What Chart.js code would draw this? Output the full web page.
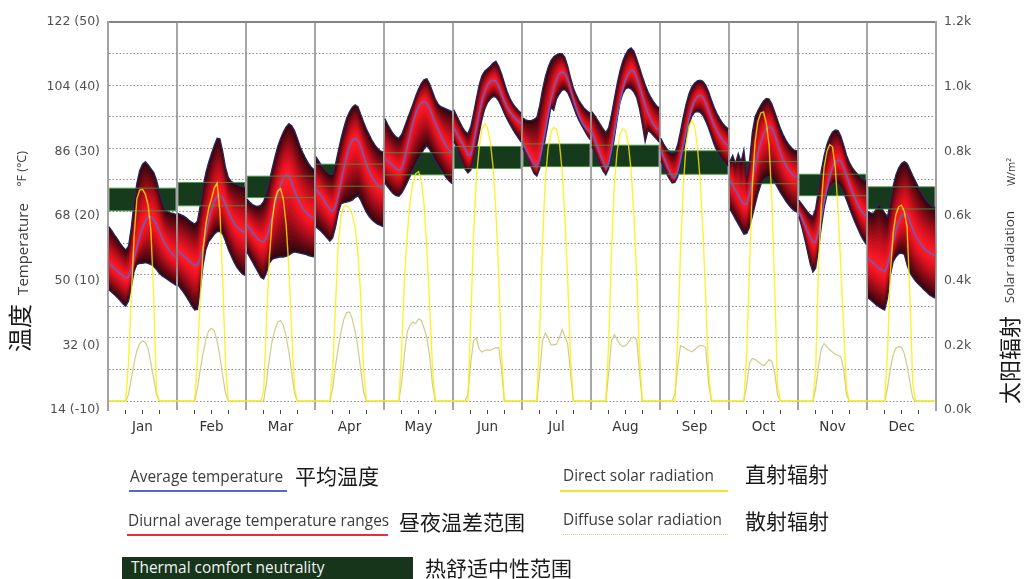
<!DOCTYPE html>
<html>
<head>
<meta charset="utf-8">
<script src="https://cdn.jsdelivr.net/npm/chart.js@4.4.1/dist/chart.umd.min.js"></script>
<style>
  html, body { margin: 0; padding: 0; background: #fff; }
  #wrap { position: relative; width: 1025px; height: 579px; overflow: hidden; }
  #wrap canvas { position: absolute; left: 0; top: 0; }
  .t { position: absolute; white-space: nowrap; line-height: 1; }
  .en { font-family: "Open Sans", "DejaVu Sans", sans-serif; color: #3c3c3c; }
  .zh { font-family: "Noto Sans CJK SC", sans-serif; color: #1a1a1a; }
  .mid { transform: translateY(-50%); }
  .rot { transform: translate(-50%, -50%) rotate(-90deg); }
  .bar { position: absolute; }
  .lg { font-size: 15.4px; }
  .lz { font-size: 21px; }
</style>
</head>
<body>
<div id="wrap">
  <canvas id="chart" width="1025" height="579"></canvas>

  <!-- axis titles -->
  <div class="t zh rot" style="left:19px;top:328px;font-size:24px;">温度</div>
  <div class="t en rot" style="left:22px;top:249px;font-size:15px;">Temperature</div>
  <div class="t en rot" style="left:22px;top:169px;font-size:12.5px;">°F (°C)</div>
  <div class="t zh rot" style="left:1008px;top:360px;font-size:22px;">太阳辐射</div>
  <div class="t en rot" style="left:1010px;top:257px;font-size:13.5px;">Solar radiation</div>
  <div class="t en rot" style="left:1010px;top:172px;font-size:11px;">W/m²</div>

  <!-- legend -->
  <div class="t en mid lg" style="left:130px;top:477px;">Average temperature</div>
  <div class="bar" style="left:129px;top:490px;width:158px;height:2px;background:#5a66cf;"></div>
  <div class="t zh mid lz" style="left:295px;top:475px;">平均温度</div>

  <div class="t en mid lg" style="left:128px;top:521px;">Diurnal average temperature ranges</div>
  <div class="bar" style="left:127px;top:534px;width:261px;height:2px;background:#e2303e;"></div>
  <div class="t zh mid lz" style="left:399px;top:521px;">昼夜温差范围</div>

  <div class="bar" style="left:122px;top:557px;width:291px;height:22px;background:#17351b;"></div>
  <div class="t en mid lg" style="left:131px;top:568px;color:#f2f2f2;">Thermal comfort neutrality</div>
  <div class="t zh mid lz" style="left:425px;top:567px;">热舒适中性范围</div>

  <div class="t en mid lg" style="left:563px;top:476px;">Direct solar radiation</div>
  <div class="bar" style="left:560px;top:490px;width:168px;height:2px;background:#f2e621;"></div>
  <div class="t zh mid lz" style="left:745px;top:473px;">直射辐射</div>

  <div class="t en mid lg" style="left:563px;top:520px;">Diffuse solar radiation</div>
  <div class="bar" style="left:563px;top:534px;width:165px;height:0;border-top:1.5px dotted #cfd38a;"></div>
  <div class="t zh mid lz" style="left:745px;top:520px;">散射辐射</div>
</div>

<script>
// ---- data: typical day per month, hourly (0..24 h) ----
const months = ['Jan', 'Feb', 'Mar', 'Apr', 'May', 'Jun', 'Jul', 'Aug', 'Sep', 'Oct', 'Nov', 'Dec'];

// average temperature, °C
const avgTemp = [
  [11.8,11.4,11.0,10.6,10.2,9.8,9.5,9.6,10.8,12.5,14.3,16.0,17.4,18.5,19.1,19.2,18.8,17.9,16.8,15.8,14.9,14.2,13.6,13.1,12.8],
  [13.8,13.4,13.0,12.6,12.2,11.8,11.5,11.5,12.6,14.5,16.6,18.6,20.3,21.6,22.4,22.6,22.2,21.2,20.0,19.0,18.2,17.6,17.2,16.9,16.7],
  [17.9,17.3,16.7,16.1,15.6,15.3,15.2,15.8,17.3,19.2,21.0,22.7,24.2,25.3,25.8,25.6,24.6,23.3,22.2,21.3,20.5,19.9,19.5,19.2,19.0],
  [23.6,23.0,22.4,21.7,21.0,20.3,20.0,20.8,22.6,24.7,26.8,28.7,30.3,31.3,31.6,31.3,30.3,28.9,27.5,26.4,25.5,24.8,24.2,23.8,23.6],
  [28.4,28.0,27.6,27.2,26.8,26.5,26.8,28.3,30.2,32.2,34.0,35.5,36.6,37.2,37.4,37.1,36.3,35.2,34.0,33.0,32.0,31.1,30.3,29.7,29.3],
  [33.2,32.4,31.6,30.8,30.0,29.0,28.9,30.8,33.2,35.5,37.5,39.0,40.0,40.6,40.8,40.6,39.8,38.6,37.4,36.5,35.8,35.2,34.7,34.3,34.0],
  [30.8,30.0,29.1,28.3,27.5,27.1,28.2,30.4,32.8,35.3,37.6,39.5,40.9,41.8,42.1,41.8,40.9,39.4,37.8,36.4,35.2,34.2,33.5,33.0,32.7],
  [32.6,31.4,30.2,29.0,27.9,26.8,27.6,29.8,32.4,35.0,37.3,39.3,40.8,41.8,42.4,42.2,41.2,39.8,38.3,36.9,35.6,34.6,33.8,33.2,32.8],
  [29.7,28.6,27.5,26.5,25.6,25.3,26.3,28.2,30.4,32.6,34.6,36.3,37.5,38.2,38.4,38.1,37.2,36.0,34.8,33.7,32.8,32.0,31.3,30.8,30.4],
  [25.0,24.2,23.4,22.6,21.8,21.1,21.2,22.8,25.0,27.2,29.2,30.9,32.2,33.0,33.4,33.2,32.2,30.8,29.4,28.2,27.3,26.6,26.0,25.6,25.4],
  [20.0,19.0,18.0,17.0,16.0,15.2,15.2,16.8,19.0,21.4,23.6,25.5,27.0,27.9,28.2,27.9,27.0,25.7,24.4,23.2,22.1,21.1,20.3,19.7,19.2],
  [12.6,12.2,11.8,11.4,11.0,10.7,10.5,11.5,13.2,15.2,17.0,18.4,19.3,19.7,19.5,18.5,17.2,16.2,15.4,14.8,14.2,13.8,13.5,13.2,13.0]
];

// upper edge of the diurnal range, °C
const maxTemp = [
  [17.6,17.0,16.3,15.7,15.0,14.4,13.9,14.5,17.5,21.5,24.5,26.5,27.5,27.9,27.4,26.8,26.2,25.0,23.2,21.5,20.4,20.0,19.8,19.7,19.5],
  [19.7,19.5,19.3,19.0,18.6,18.3,18.0,18.5,21.0,24.0,26.2,27.8,29.2,30.5,31.6,31.5,29.5,27.0,25.4,24.8,24.5,24.3,24.1,23.9,23.8],
  [22.0,21.5,21.1,20.9,20.8,21.0,21.6,23.0,24.8,26.8,28.6,30.3,31.5,32.6,33.4,33.9,33.6,32.8,31.6,30.3,29.3,28.4,27.6,27.0,26.6],
  [28.7,28.0,27.3,26.7,26.2,25.9,25.9,27.5,29.6,31.6,33.3,34.8,35.8,36.5,36.9,36.6,35.4,34.2,33.1,32.2,31.3,30.6,30.0,29.6,29.4],
  [34.7,33.8,33.0,32.3,31.8,31.6,32.2,33.4,34.6,35.8,37.0,38.3,39.4,40.3,40.9,41.0,40.2,39.0,37.8,37.0,36.6,36.4,36.2,36.0,35.8],
  [36.1,35.2,34.3,33.4,32.7,32.3,33.4,35.5,37.8,40.0,41.5,42.2,42.6,43.0,43.5,43.8,43.0,41.8,40.4,39.0,37.9,37.1,36.5,36.0,35.6],
  [34.8,34.5,34.4,34.4,34.6,34.9,36.8,39.3,41.3,42.8,43.9,44.5,44.8,45.0,45.0,44.4,43.0,41.2,39.6,38.5,37.6,36.9,36.3,35.9,35.6],
  [35.8,35.2,34.5,33.8,33.1,32.5,33.3,35.3,37.8,40.2,42.2,43.8,44.9,45.6,45.9,45.4,44.2,42.8,41.4,40.1,39.0,38.1,37.4,36.8,36.4],
  [31.6,30.7,30.0,29.5,29.2,29.3,30.6,32.7,35.0,37.0,38.6,39.7,40.3,40.7,40.8,40.6,40.0,39.0,37.7,36.5,35.5,34.7,34.0,33.5,33.1],
  [27.9,28.9,27.6,29.2,27.9,29.8,25.8,28.0,32.5,35.0,36.0,36.8,37.5,37.9,37.8,37.0,35.8,34.5,33.2,32.2,31.3,30.6,30.1,29.7,29.6],
  [21.8,21.2,20.6,20.0,19.5,19.2,20.5,23.4,26.5,28.8,30.6,31.8,32.6,32.9,32.8,31.9,30.5,28.9,27.8,27.0,26.4,25.9,25.4,25.0,24.8],
  [20.0,19.8,19.7,20.4,21.2,20.5,19.8,19.2,21.5,24.0,25.8,26.9,27.6,27.9,27.6,26.7,25.7,24.8,23.9,23.0,22.3,21.7,21.2,20.8,20.6]
];

// lower edge of the diurnal range, °C
const minTemp = [
  [7.6,7.2,6.8,6.4,5.9,5.4,5.0,5.8,8.0,10.5,11.6,11.8,11.8,11.9,11.8,11.6,11.3,10.8,10.2,9.8,9.5,9.2,8.9,8.6,8.3],
  [8.4,7.8,7.2,6.5,5.8,5.0,4.4,4.5,7.5,11.5,14.0,15.2,15.8,16.4,16.8,16.8,16.4,15.3,14.0,13.0,12.0,11.2,10.6,10.1,9.9],
  [13.6,12.8,12.0,11.2,10.4,9.6,9.3,10.3,11.8,12.4,12.6,12.7,12.8,12.8,12.9,13.1,13.4,13.6,13.5,13.4,13.3,13.2,13.0,12.9,12.8],
  [17.6,17.2,16.8,16.3,15.8,15.3,15.8,17.5,19.8,21.2,21.4,21.5,21.6,21.8,22.2,22.5,21.8,20.8,19.9,19.2,18.7,18.3,18.0,17.8,17.6],
  [24.5,23.9,23.3,22.8,22.5,22.4,22.9,23.7,24.6,25.6,26.6,27.5,28.3,29.1,29.9,30.4,29.8,28.9,28.0,27.3,26.6,25.9,25.3,24.8,24.4],
  [31.1,30.0,28.8,27.7,26.7,26.1,26.5,28.0,30.0,32.3,34.5,36.2,37.2,37.8,38.2,38.1,37.5,36.6,35.5,34.6,33.8,33.0,32.3,31.6,31.0],
  [30.0,29.0,28.0,27.0,26.0,25.6,26.8,29.0,31.5,34.0,36.5,36.0,37.8,38.6,39.2,39.3,38.8,37.8,36.6,35.4,34.4,33.6,32.8,32.0,31.4],
  [30.3,29.3,28.3,27.3,26.4,25.8,26.8,28.8,31.5,34.5,37.2,38.6,39.4,39.6,39.4,38.9,38.0,36.2,33.8,31.0,32.8,32.5,32.0,31.5,31.0],
  [28.0,27.0,26.0,25.2,24.5,24.6,25.5,27.2,29.3,31.6,33.6,35.0,35.7,35.8,35.7,35.2,34.3,33.2,31.9,30.6,29.6,28.8,28.1,27.6,27.2],
  [20.4,19.6,18.8,18.0,17.2,16.4,16.5,17.5,19.2,21.0,22.8,24.2,25.0,25.4,25.5,25.2,24.6,23.8,23.0,22.3,21.6,21.0,20.5,20.1,19.9],
  [19.2,17.6,15.8,13.8,11.8,10.4,11.0,14.0,17.5,20.5,22.6,23.8,24.4,24.6,24.4,23.8,22.9,21.8,20.6,19.4,18.3,17.3,16.3,15.5,14.8],
  [6.3,6.0,5.6,5.2,4.9,4.6,4.4,6.3,9.8,12.0,12.8,13.3,13.4,13.2,11.5,10.3,9.6,9.0,8.5,8.1,7.6,7.2,6.8,6.5,6.3]
];

// direct solar radiation, W/m²
const directSolar = [
  [0,0,0,0,0,0,0,120,330,520,640,668,670,655,620,540,330,30,0,0,0,0,0,0,0],
  [0,0,0,0,0,0,0,140,330,480,560,610,640,675,690,600,380,120,0,0,0,0,0,0,0],
  [0,0,0,0,0,0,30,250,450,570,635,665,672,640,560,420,220,40,0,0,0,0,0,0,0],
  [0,0,0,0,0,0,100,300,500,590,615,620,610,590,550,470,330,100,0,0,0,0,0,0,0],
  [0,0,0,0,0,0,160,390,530,630,690,720,726,700,620,480,300,100,0,0,0,0,0,0,0],
  [0,0,0,0,0,0,250,520,700,800,860,878,865,820,740,600,400,150,0,0,0,0,0,0,0],
  [0,0,0,0,0,0,220,500,700,800,850,866,860,820,730,580,380,140,0,0,0,0,0,0,0],
  [0,0,0,0,0,0,180,470,680,790,845,862,855,815,730,590,390,150,0,0,0,0,0,0,0],
  [0,0,0,0,0,0,200,470,680,810,870,888,870,810,700,540,330,100,0,0,0,0,0,0,0],
  [0,0,0,0,0,0,150,420,680,820,885,912,915,880,810,630,360,50,0,0,0,0,0,0,0],
  [0,0,0,0,0,0,100,420,620,740,790,812,805,740,600,420,230,40,0,0,0,0,0,0,0],
  [0,0,0,0,0,0,0,150,400,530,590,615,620,600,550,330,60,0,0,0,0,0,0,0,0]
];

// diffuse solar radiation, W/m²
const diffuseSolar = [
  [0,0,0,0,0,0,0,20,70,120,160,182,190,186,165,120,70,20,0,0,0,0,0,0,0],
  [0,0,0,0,0,0,0,40,100,150,195,222,230,222,190,140,80,25,0,0,0,0,0,0,0],
  [0,0,0,0,0,0,0,60,130,190,225,250,255,240,205,155,90,25,0,0,0,0,0,0,0],
  [0,0,0,0,0,0,40,110,170,220,260,280,282,260,220,170,100,30,0,0,0,0,0,0,0],
  [0,0,0,0,0,0,60,150,220,240,250,245,260,255,230,200,140,50,0,0,0,0,0,0,0],
  [0,0,0,0,0,20,120,190,200,165,155,160,162,160,165,168,170,100,0,0,0,0,0,0,0],
  [0,0,0,0,0,0,90,190,215,200,178,178,180,200,225,205,180,90,0,0,0,0,0,0,0],
  [0,0,0,0,0,0,90,190,210,195,180,172,175,185,200,202,195,90,0,0,0,0,0,0,0],
  [0,0,0,0,0,20,110,175,172,165,160,156,162,170,176,175,170,60,0,0,0,0,0,0,0],
  [0,0,0,0,0,0,50,120,135,132,125,118,112,120,132,125,90,20,0,0,0,0,0,0,0],
  [0,0,0,0,0,0,40,110,165,182,172,162,155,148,145,140,100,20,0,0,0,0,0,0,0],
  [0,0,0,0,0,0,0,40,100,145,168,172,170,150,110,60,10,0,0,0,0,0,0,0,0]
];

// thermal comfort neutrality band, °C
const comfortLow  = [20.1, 20.9, 22.2, 24.0, 25.8, 26.8, 27.1, 27.1, 25.9, 24.4, 22.5, 20.4];
const comfortHigh = [23.7, 24.6, 25.6, 27.5, 29.3, 30.3, 30.7, 30.5, 29.6, 27.9, 25.9, 23.9];

// axis tick labels
const tempLabelTicks  = [-10, 0, 10, 20, 30, 40, 50];          // °C, shown as °F (°C)
const solarLabelTicks = [0, 200, 400, 600, 800, 1000, 1200];   // W/m², shown as k

// ---- layout helpers ----
const HOURS = 24;
const SPAN = months.length * HOURS;
const hourX = (m, h) => m * HOURS + 0.3 + h * 23.4 / HOURS;

// one polyline per month, broken between months
function monthSeries(days) {
  const pts = [];
  days.forEach((day, m) => {
    day.forEach((v, h) => pts.push({ x: hourX(m, h), y: v }));
    pts.push({ x: m * HOURS + 23.85, y: null });
  });
  return pts;
}
// one unbroken polyline through all months
function joinedSeries(days) {
  const pts = [];
  days.forEach((day, m) => day.forEach((v, h) => pts.push({ x: hourX(m, h), y: v })));
  return pts;
}
// a level lying a fraction of the way from the mean towards an edge
function levelSeries(edge, frac) {
  return monthSeries(avgTemp.map((day, m) => day.map((a, h) => a + frac * (edge[m][h] - a))));
}
function comfortSeries(vals) {
  const pts = [];
  vals.forEach((v, m) => {
    pts.push({ x: m * HOURS + 0.4, y: v }, { x: m * HOURS + 23.6, y: v }, { x: m * HOURS + 23.8, y: null });
  });
  return pts;
}

// shading of the diurnal range: bright red at the mean, near-black at the edges
const SHADE_STEPS = 16;
const shadeStops = [
  [0.00, [255, 30, 42]],
  [0.22, [236, 20, 34]],
  [0.48, [182, 14, 27]],
  [0.74, [112, 10, 20]],
  [1.00, [44, 5, 14]]
];
function shadeAt(t) {
  for (let i = 1; i < shadeStops.length; i++) {
    const [t1, c1] = shadeStops[i];
    const [t0, c0] = shadeStops[i - 1];
    if (t <= t1) {
      const k = (t - t0) / (t1 - t0);
      const c = c0.map((v, j) => Math.round(v + k * (c1[j] - v)));
      return `rgb(${c[0]},${c[1]},${c[2]})`;
    }
  }
  return 'rgb(44,5,14)';
}

const base = { xAxisID: 'x', yAxisID: 'y', pointRadius: 0, tension: 0, spanGaps: false };
const datasets = [];

// comfort band fill (bottom layer)
datasets.push({ ...base, data: comfortSeries(comfortLow), borderWidth: 0, fill: false, order: 90 });
datasets.push({ ...base, data: comfortSeries(comfortHigh), borderWidth: 0, fill: '-1',
                backgroundColor: '#163a1c', order: 89 });

// mean temperature (also the fill target of the shading)
const avgIndex = datasets.length;
datasets.push({ ...base, data: monthSeries(avgTemp), borderColor: '#5b63cc', borderWidth: 1.4,
                fill: false, order: 3 });

// shading, outer levels painted first
[maxTemp, minTemp].forEach(edge => {
  for (let i = 1; i <= SHADE_STEPS; i++) {
    const f = i / SHADE_STEPS;
    datasets.push({ ...base, data: levelSeries(edge, f), borderWidth: 0,
                    fill: avgIndex, backgroundColor: shadeAt((i - 0.5) / SHADE_STEPS), order: 20 + i });
  }
});

// range outlines
[maxTemp, minTemp].forEach(edge => {
  datasets.push({ ...base, data: monthSeries(edge), borderColor: '#2c2658', borderWidth: 1.3,
                  fill: false, order: 4 });
});

// comfort band edges drawn over the range
[comfortLow, comfortHigh].forEach(v => {
  datasets.push({ ...base, data: comfortSeries(v), borderColor: 'rgba(72,150,62,0.85)', borderWidth: 1,
                  fill: false, order: 2 });
});

// solar radiation
datasets.push({ ...base, yAxisID: 'y2', data: joinedSeries(diffuseSolar), borderColor: '#cfcd88',
                borderWidth: 1.2, fill: false, order: 80 });
datasets.push({ ...base, yAxisID: 'y2', data: joinedSeries(directSolar), borderColor: 'rgba(255,236,0,0.8)',
                borderWidth: 1.4, fill: false, order: 0 });

// the tick labels sit on a slightly taller ladder than the grid
const TOP = 22, GRID_BOTTOM = 401, LABEL_BOTTOM = 410;
const extra = (LABEL_BOTTOM - GRID_BOTTOM) / (GRID_BOTTOM - TOP);

Chart.defaults.font.family = '"DejaVu Sans", sans-serif';

new Chart(document.getElementById('chart'), {
  type: 'line',
  data: { datasets },
  options: {
    responsive: false,
    devicePixelRatio: 1,
    animation: false,
    events: [],
    layout: { padding: { top: TOP, left: 0, right: 0, bottom: 0 } },
    plugins: { legend: { display: false }, tooltip: { enabled: false } },
    scales: {
      x: {
        type: 'linear', position: 'bottom', min: 0, max: SPAN,
        afterBuildTicks: s => { s.ticks = []; for (let v = 0; v <= SPAN; v += 6) s.ticks.push({ value: v }); },
        afterFit: s => { s.height = 579 - LABEL_BOTTOM; },
        grid: {
          color: c => (c.tick && c.tick.value % HOURS === 0) ? '#a6a6a6' : 'rgba(0,0,0,0)',
          lineWidth: c => (c.tick && c.tick.value % HOURS === 0) ? 2 : 1,
          tickColor: c => (c.tick && c.tick.value % HOURS === 0) ? 'rgba(0,0,0,0)' : '#444',
          tickLength: 4
        },
        border: { display: false },
        ticks: {
          autoSkip: false, maxRotation: 0, padding: 5, color: '#333',
          font: { size: 13.5 },
          callback: v => (v % HOURS === 12) ? months[(v - 12) / HOURS] : ''
        }
      },
      xt: {
        type: 'linear', position: 'top', min: 0, max: SPAN,
        afterFit: s => { s.height = 0; },
        ticks: { display: false },
        grid: { display: false },
        border: { display: true, color: '#858585', width: 2 }
      },
      y: {
        type: 'linear', position: 'left', weight: 0,
        min: -10 - 60 * extra, max: 50,
        afterBuildTicks: s => { s.ticks = []; for (let v = -10; v <= 50; v += 5) s.ticks.push({ value: v }); },
        afterFit: s => { s.width = 0; },
        ticks: { display: false },
        grid: { color: '#8e8e8e', lineWidth: 1, drawTicks: false },
        border: { display: true, color: '#a3a3a3', width: 2, dash: [1.5, 2] }
      },
      yl: {
        type: 'linear', position: 'left', weight: 1, min: -10, max: 50,
        afterBuildTicks: s => { s.ticks = tempLabelTicks.map(v => ({ value: v })); },
        afterFit: s => { s.width = 108; },
        grid: { display: false, drawTicks: false },
        border: { display: false },
        ticks: { padding: 8, color: '#505050', font: { size: 12.5 },
                 callback: v => `${Math.round(v * 9 / 5 + 32)} (${v})` }
      },
      y2: {
        type: 'linear', position: 'right', weight: 0, display: false,
        min: -1200 * extra, max: 1200
      },
      y2l: {
        type: 'linear', position: 'right', weight: 1, min: 0, max: 1200,
        afterBuildTicks: s => { s.ticks = solarLabelTicks.map(v => ({ value: v })); },
        afterFit: s => { s.width = 89; },
        grid: { display: false, drawTicks: false },
        border: { display: true, color: '#a3a3a3', width: 2 },
        ticks: { padding: 8, color: '#505050', font: { size: 12.5 },
                 callback: v => (v / 1000).toFixed(1) + 'k' }
      }
    }
  }
});
</script>
</body>
</html>
